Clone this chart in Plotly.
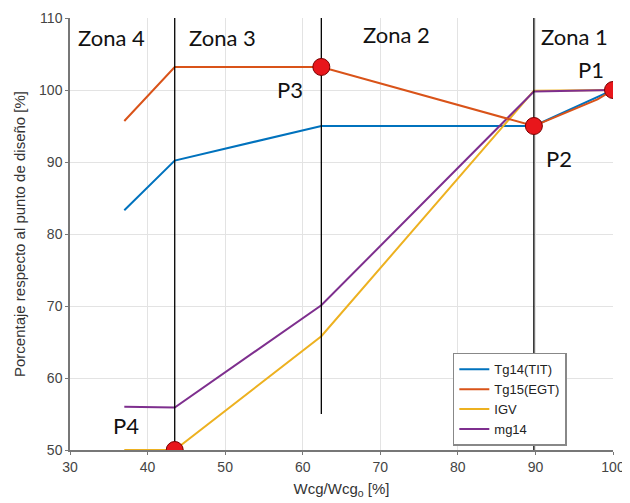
import plotly.graph_objects as go

# Data
tg14_x = [37, 43.5, 62.4, 89.8, 100]
tg14_y = [83.3, 90.2, 95.0, 95.0, 100]
tg15_x = [37, 43.5, 62.4, 89.8, 92, 95, 98, 100]
tg15_y = [95.7, 103.2, 103.2, 95.0, 96.0, 97.4, 98.7, 100]
igv_x = [37, 43.5, 62.4, 89.8, 100]
igv_y = [50.0, 50.0, 65.8, 99.9, 100]
mg14_x = [37, 43.5, 62.4, 89.8, 100]
mg14_y = [56.0, 55.9, 70.1, 99.8, 100]

zone_x = [43.5, 62.4, 89.8]
zone_bottom = [50, 55, 50]
zone_top = 110
zone_labels = ["Zona 4", "Zona 3", "Zona 2", "Zona 1"]
zone_label_x = [35.35, 49.7, 72.1, 95.1]
zone_label_y = [107.15, 107.2, 107.6, 107.25]

pts_name = ["P1", "P2", "P3", "P4"]
pts_x = [100, 89.8, 62.4, 43.5]
pts_y = [100, 95.0, 103.2, 50]
pts_lbl_x = [97.2, 93.0, 58.4, 37.2]
pts_lbl_y = [102.7, 90.4, 99.9, 53.2]

fig = go.Figure()

series = [
    ("Tg14(TIT)", tg14_x, tg14_y, "#0072BD"),
    ("Tg15(EGT)", tg15_x, tg15_y, "#D95319"),
    ("IGV", igv_x, igv_y, "#EDB120"),
    ("mg14", mg14_x, mg14_y, "#7E2F8E"),
]
order = [0, 2, 3, 1]
for i in order:
    name, xs, ys, col = series[i]
    fig.add_trace(go.Scatter(x=xs, y=ys, mode="lines", name=name,
                             line=dict(color=col, width=2), legendrank=i + 1))

for zx, zb in zip(zone_x, zone_bottom):
    fig.add_trace(go.Scatter(x=[zx, zx], y=[zb, zone_top], mode="lines",
                             line=dict(color="black", width=1.3),
                             showlegend=False, hoverinfo="skip"))

fig.add_trace(go.Scatter(x=pts_x, y=pts_y, mode="markers", showlegend=False,
                         marker=dict(size=17, color="#E8161B",
                                     line=dict(color="#7a0000", width=1))))

for t, x, y in zip(zone_labels, zone_label_x, zone_label_y):
    fig.add_annotation(x=x, y=y, text=t, showarrow=False, yshift=1,
                       font=dict(family="Lato", size=22, color="#111"))
for t, x, y in zip(pts_name, pts_lbl_x, pts_lbl_y):
    fig.add_annotation(x=x, y=y, text=t, showarrow=False, yshift=1,
                       font=dict(family="Lato", size=22, color="#111"))

fig.update_layout(
    width=622, height=495,
    margin=dict(l=62, r=17, t=10, b=53),
    paper_bgcolor="white", plot_bgcolor="white",
    font=dict(family="Liberation Sans, Arial", color="#333"),
    legend=dict(x=0.705, y=0.225, xanchor="left", yanchor="top",
                bgcolor="white", bordercolor="#888", borderwidth=1.5,
                font=dict(size=13, color="#222"), tracegroupgap=0,
                itemwidth=30),
    showlegend=True,
)
fig.update_xaxes(range=[30, 100], dtick=10, showgrid=True, gridcolor="#e3e3e3",
                 showline=True, linecolor="#777", linewidth=1.5,
                 ticks="outside", ticklen=3, tickcolor="#777",
                 tickfont=dict(size=14, color="#444"), automargin=False,
                 title=dict(text="Wcg/Wcg<sub>o</sub> [%]", font=dict(size=15, color="#333"),
                            standoff=10),
                 zeroline=False)
fig.update_yaxes(range=[50, 110], dtick=10, showgrid=True, gridcolor="#e3e3e3",
                 showline=True, linecolor="#777", linewidth=1.5,
                 ticks="outside", ticklen=3, tickcolor="#777",
                 tickfont=dict(size=14, color="#444"), automargin=False,
                 title=dict(text="Porcentaje respecto al punto de diseño [%]",
                            font=dict(size=15, color="#333"), standoff=10),
                 zeroline=False)

fig.write_html("out.html")
